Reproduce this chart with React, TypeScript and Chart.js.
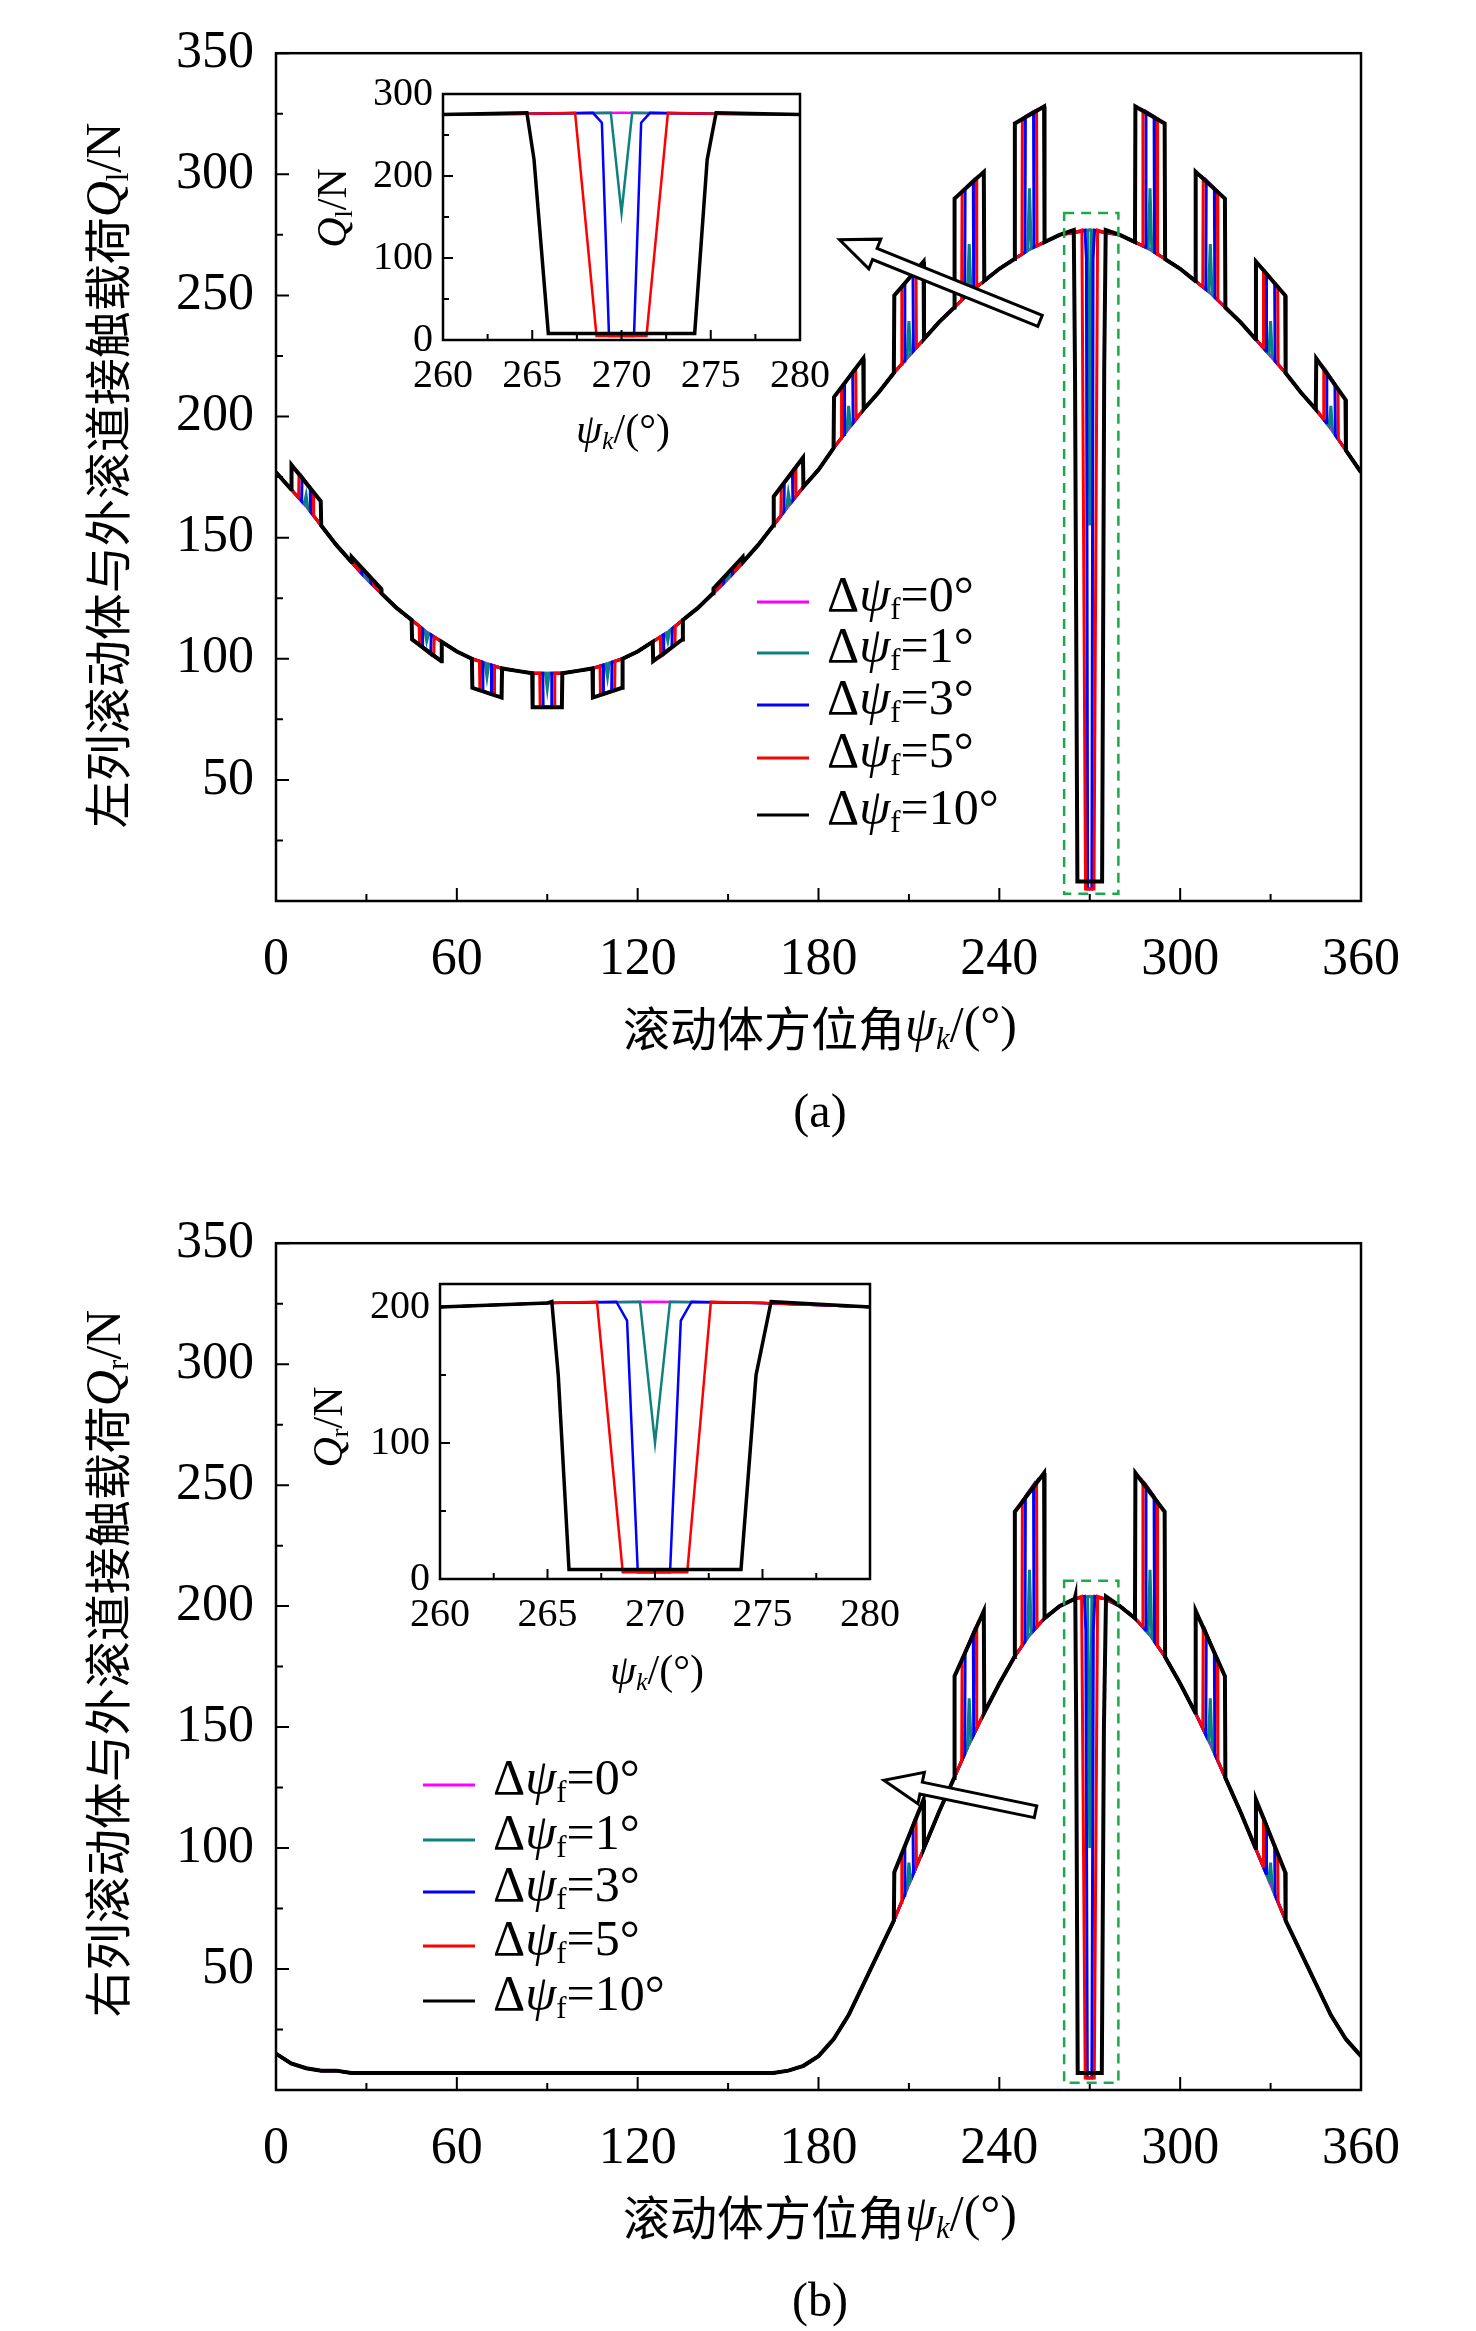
import React, { useEffect, useRef } from "react";
import { Chart, registerables } from "chart.js";
Chart.register(...registerables);

// ---------- data ----------
const seriesLabels = ["0°", "1°", "3°", "5°", "10°"];
const seriesColors = ["#ff00ff", "#0f8080", "#0000ff", "#ff0000", "#000000"];
const seriesWidths = [0, 1, 3, 5, 10]; // Δψf
const pulseScale = [0, 0.45, 1, 1, 1];
const baseStep = 5;
// panel (a) left row, base load every 5°
const baseA = [177,170,163,155,147,140,133,127,121,116,111,107,103,100,98,96,95,94,94,94,95,96,98,100,103,107,111,116,121,127,133,140,147,155,163,171,178,187,195,203,210,218,225,232,239,245,251,256,261,265,269,272,275,276,277,276,275,272,269,265,261,256,251,245,239,232,225,218,210,203,195,186,177];
// panel (b) right row
const baseB = [15,11,9,8,8,7,7,7,7,7,7,7,7,7,7,7,7,7,7,7,7,7,7,7,7,7,7,7,7,7,7,7,7,7,8,10,14,21,31,44,57,70,85,100,115,129,143,156,168,179,188,195,200,203,204,203,200,195,188,179,168,156,143,129,115,100,85,70,57,44,31,21,14];
const elementCentres = [10,30,50,70,90,110,130,150,170,190,210,230,250,290,310,330,350];
const deltaA = [10,2,-8,-12,-14,-12,-8,2,12,21,32,45,56,56,45,32,21];
const deltaB = [0,0,0,0,0,0,0,0,0,0,20,42,60,60,42,20,0];
// defect zone (270°) profiles per series
const defectAx = [[], [269.4,270,270.6], [268.4,268.9,269.3,270.7,271.1,271.6], [267.4,268.6,271.4,272.6], [264.7,265.1,265.9,274.1,274.8,275.3]];
const defectAy = [[], [277,155,277], [277,265,5,5,265,277], [277,5,5,277], [277,220,8,8,220,277]];
const defectBx = [[], [269.3,270,270.7], [268.2,268.7,269.2,270.7,271.2,271.7], [267.3,268.5,271.5,272.6], [265.2,265.5,266,274,274.7,275.4]];
const defectBy = [[], [204,100,204], [204,190,5,5,190,204], [204,5,5,204], [204,150,7,7,150,204]];
const insetATicks = [0, 100, 200, 300];
const insetBTicks = [0, 100, 200];

// ---------- helpers ----------
function baseAt(base: number[], x: number) {
  const i = Math.min(base.length - 2, Math.max(0, Math.floor(x / baseStep)));
  const t = (x - i * baseStep) / baseStep;
  return base[i] * (1 - t) + base[i + 1] * t;
}
function buildSeries(base: number[], deltas: number[], k: number, dx: number[], dy: number[]) {
  const w = seriesWidths[k];
  const pts: { x: number; y: number }[] = [];
  const intervals: [number, number][] = [];
  if (w > 0) {
    elementCentres.forEach((c, j) => {
      const d = deltas[j] * pulseScale[k];
      if (d === 0) return;
      if (w === 1) {
        const a = c - 0.6, b = c + 0.6;
        intervals.push([a, b]);
        pts.push({ x: a, y: baseAt(base, a) }, { x: c, y: baseAt(base, c) + d }, { x: b, y: baseAt(base, b) });
      } else {
        const a = c - w / 2, b = c + w / 2;
        intervals.push([a, b]);
        pts.push(
          { x: a, y: baseAt(base, a) },
          { x: a + 0.15, y: baseAt(base, a) + d },
          { x: b - 0.15, y: baseAt(base, b) + d },
          { x: b, y: baseAt(base, b) }
        );
      }
    });
  }
  if (dx.length) {
    intervals.push([dx[0], dx[dx.length - 1]]);
    dx.forEach((x, i) => pts.push({ x, y: dy[i] }));
  }
  base.forEach((v, i) => {
    const x = i * baseStep;
    if (!intervals.some(([a, b]) => x >= a && x <= b)) pts.push({ x, y: v });
  });
  pts.sort((p, q) => p.x - q.x);
  return pts;
}

const SERIF = '"Times New Roman", "Liberation Serif", "DejaVu Serif", serif';
const CJK = '"Noto Sans CJK SC", sans-serif';
type Seg = { t: string; i?: boolean; s?: boolean; c?: boolean };
function font(size: number, italic?: boolean, cjk?: boolean) {
  return `${italic ? "italic " : ""}${size}px ${cjk ? CJK : SERIF}`;
}
function drawRich(ctx: CanvasRenderingContext2D, segs: Seg[], x: number, y: number, size: number, align: "left" | "center") {
  ctx.save();
  ctx.textBaseline = "middle";
  ctx.textAlign = "left";
  ctx.fillStyle = "#000";
  const fs = (g: Seg) => font(g.s ? size * 0.62 : g.c ? size * 0.94 : size, g.i, g.c);
  const widths = segs.map((g) => {
    ctx.font = fs(g);
    return ctx.measureText(g.t).width;
  });
  const total = widths.reduce((a, b) => a + b, 0);
  let cx = align === "center" ? x - total / 2 : x;
  segs.forEach((g, i) => {
    ctx.font = fs(g);
    ctx.fillText(g.t, cx, g.s ? y + size * 0.25 : y);
    cx += widths[i];
  });
  ctx.restore();
}

type Decor = {
  xMajor: number; xMinor: number; yMajor: number; yMinor: number;
  major: number; minor: number;
  xTitle: Seg[]; xTitlePos: [number, number]; xTitleSize: number;
  yTitle: Seg[]; yTitlePos: [number, number]; yTitleSize: number;
  extra?: (chart: any) => void;
};
function decorPlugin(d: Decor) {
  return {
    id: "decor",
    afterDraw(chart: any) {
      const ctx: CanvasRenderingContext2D = chart.ctx;
      const { left, right, top, bottom } = chart.chartArea;
      const xs = chart.scales.x, ys = chart.scales.y;
      ctx.save();
      ctx.strokeStyle = "#000";
      ctx.lineWidth = 2.5;
      ctx.strokeRect(left, top, right - left, bottom - top);
      ctx.lineWidth = 2;
      ctx.beginPath();
      for (let v = xs.min; v <= xs.max + 1e-6; v += d.xMinor) {
        const p = xs.getPixelForValue(v);
        const isMaj = Math.abs(v / d.xMajor - Math.round(v / d.xMajor)) < 1e-6;
        ctx.moveTo(p, bottom);
        ctx.lineTo(p, bottom - (isMaj ? d.major : d.minor));
      }
      for (let v = ys.min; v <= ys.max + 1e-6; v += d.yMinor) {
        const p = ys.getPixelForValue(v);
        const isMaj = Math.abs(v / d.yMajor - Math.round(v / d.yMajor)) < 1e-6;
        ctx.moveTo(left, p);
        ctx.lineTo(left + (isMaj ? d.major : d.minor), p);
      }
      ctx.stroke();
      ctx.restore();
      drawRich(ctx, d.xTitle, d.xTitlePos[0], d.xTitlePos[1], d.xTitleSize, "center");
      ctx.save();
      ctx.translate(d.yTitlePos[0], d.yTitlePos[1]);
      ctx.rotate(-Math.PI / 2);
      drawRich(ctx, d.yTitle, 0, 0, d.yTitleSize, "center");
      ctx.restore();
      if (d.extra) d.extra(chart);
    },
  };
}

function hollowArrow(ctx: CanvasRenderingContext2D, tx: number, ty: number, hx: number, hy: number) {
  const ang = Math.atan2(hy - ty, hx - tx);
  const L = Math.hypot(hx - tx, hy - ty);
  const sw = 6, hw = 16, hl = 38;
  const pts = [[0, -sw], [L - hl, -sw], [L - hl, -hw], [L, 0], [L - hl, hw], [L - hl, sw], [0, sw]];
  ctx.save();
  ctx.translate(tx, ty);
  ctx.rotate(ang);
  ctx.beginPath();
  pts.forEach(([a, b], i) => (i ? ctx.lineTo(a, b) : ctx.moveTo(a, b)));
  ctx.closePath();
  ctx.fillStyle = "#fff";
  ctx.fill();
  ctx.lineWidth = 3;
  ctx.strokeStyle = "#000";
  ctx.stroke();
  ctx.restore();
}

type PanelCfg = {
  base: number[]; deltas: number[]; dxs: number[][]; dys: number[][];
  rowChar: string; sub: string; tag: string;
  H: number; areaTop: number; areaBottom: number;
  legendX: number; legendY: number[];
  box: [number, number, number, number];
  arrow: [number, number, number, number];
};

function datasets(cfg: PanelCfg, lw: number) {
  return seriesWidths.map((_, k) => ({
    label: seriesLabels[k],
    data: buildSeries(cfg.base, cfg.deltas, k, cfg.dxs[k], cfg.dys[k]),
    borderColor: seriesColors[k],
    borderWidth: k === 4 ? lw + 1 : lw,
    pointRadius: 0,
    tension: 0,
    fill: false,
    order: 4 - k,
  }));
}

function MainChart({ cfg, top }: { cfg: PanelCfg; top: number }) {
  const ref = useRef<HTMLCanvasElement>(null);
  useEffect(() => {
    const decor = decorPlugin({
      xMajor: 60, xMinor: 30, yMajor: 50, yMinor: 25, major: 13, minor: 7,
      xTitle: [{ t: "滚动体方位角", c: true }, { t: "ψ", i: true }, { t: "k", i: true, s: true }, { t: "/(°)" }],
      xTitlePos: [820, cfg.areaBottom + 127], xTitleSize: 50,
      yTitle: [{ t: cfg.rowChar + "列滚动体与外滚道接触载荷", c: true }, { t: "Q", i: true }, { t: cfg.sub, s: true }, { t: "/N" }],
      yTitlePos: [107, (cfg.areaTop + cfg.areaBottom) / 2 + 10], yTitleSize: 50,
      extra: (chart: any) => {
        const ctx: CanvasRenderingContext2D = chart.ctx;
        const xs = chart.scales.x, ys = chart.scales.y;
        ctx.save();
        ctx.strokeStyle = "#1aaa4a";
        ctx.lineWidth = 2.5;
        ctx.setLineDash([10, 7]);
        const [x0, x1, y0, y1] = cfg.box;
        const px0 = xs.getPixelForValue(x0), px1 = xs.getPixelForValue(x1);
        const py0 = ys.getPixelForValue(y0), py1 = ys.getPixelForValue(y1);
        ctx.strokeRect(px0, py1, px1 - px0, py0 - py1);
        ctx.restore();
        const [ax0, ay0, ax1, ay1] = cfg.arrow;
        hollowArrow(ctx, xs.getPixelForValue(ax0), ys.getPixelForValue(ay0), xs.getPixelForValue(ax1), ys.getPixelForValue(ay1));
        seriesLabels.forEach((lab, k) => {
          const y = cfg.legendY[k];
          ctx.save();
          ctx.strokeStyle = seriesColors[k];
          ctx.lineWidth = 3;
          ctx.beginPath();
          ctx.moveTo(cfg.legendX, y);
          ctx.lineTo(cfg.legendX + 52, y);
          ctx.stroke();
          ctx.restore();
          drawRich(ctx, [{ t: "Δ" }, { t: "ψ", i: true }, { t: "f", s: true }, { t: "=" + lab }], cfg.legendX + 70, y - 4, 50, "left");
        });
        drawRich(ctx, [{ t: cfg.tag }], 820, cfg.areaBottom + 213, 48, "center");
      },
    });
    const chart = new Chart(ref.current!, {
      type: "line",
      data: { datasets: datasets(cfg, 3) as any },
      options: {
        animation: false,
        responsive: false,
        devicePixelRatio: 1,
        layout: { padding: { top: cfg.areaTop, right: 115, left: 0, bottom: 0 } },
        plugins: { legend: { display: false }, tooltip: { enabled: false } },
        scales: {
          x: {
            type: "linear", min: 0, max: 360,
            grid: { display: false, drawTicks: false },
            border: { display: false },
            ticks: { stepSize: 60, padding: 28, color: "#000", font: { family: SERIF, size: 52 } },
            afterFit: (s: any) => { s.height = cfg.H - cfg.areaBottom; },
          },
          y: {
            min: 0, max: 350,
            grid: { display: false, drawTicks: false },
            border: { display: false },
            ticks: { stepSize: 50, padding: 22, color: "#000", font: { family: SERIF, size: 52 }, callback: (v: any) => (v === 0 ? "" : String(v)) },
            afterFit: (s: any) => { s.width = 276; },
          },
        },
      } as any,
      plugins: [decor as any],
    });
    return () => chart.destroy();
  }, []);
  return <canvas ref={ref} width={1476} height={cfg.H} style={{ position: "absolute", left: 0, top }} />;
}

type InsetCfg = {
  left: number; top: number; W: number; H: number;
  aLeft: number; aRight: number; aTop: number; aBottom: number;
  yMax: number; yTicks: number[]; xTitlePos: [number, number]; yTitlePos: [number, number];
};
function InsetChart({ cfg, ic }: { cfg: PanelCfg; ic: InsetCfg }) {
  const ref = useRef<HTMLCanvasElement>(null);
  useEffect(() => {
    const decor = decorPlugin({
      xMajor: 5, xMinor: 2.5, yMajor: 100, yMinor: 50, major: 10, minor: 6,
      xTitle: [{ t: "ψ", i: true }, { t: "k", i: true, s: true }, { t: "/(°)" }],
      xTitlePos: ic.xTitlePos, xTitleSize: 42,
      yTitle: [{ t: "Q", i: true }, { t: cfg.sub, s: true }, { t: "/N" }],
      yTitlePos: ic.yTitlePos, yTitleSize: 42,
    });
    const chart = new Chart(ref.current!, {
      type: "line",
      data: { datasets: datasets(cfg, 2.5) as any },
      options: {
        animation: false,
        responsive: false,
        devicePixelRatio: 1,
        layout: { padding: { top: ic.aTop, right: ic.W - ic.aRight, left: 0, bottom: 0 } },
        plugins: { legend: { display: false }, tooltip: { enabled: false } },
        scales: {
          x: {
            type: "linear", min: 260, max: 280,
            grid: { display: false, drawTicks: false },
            border: { display: false },
            ticks: { stepSize: 5, padding: 12, color: "#000", font: { family: SERIF, size: 40 } },
            afterFit: (s: any) => { s.height = ic.H - ic.aBottom; },
          },
          y: {
            min: 0, max: ic.yMax,
            grid: { display: false, drawTicks: false },
            border: { display: false },
            afterBuildTicks: (s: any) => { s.ticks = ic.yTicks.map((v) => ({ value: v })); },
            ticks: { padding: 10, color: "#000", font: { family: SERIF, size: 40 } },
            afterFit: (s: any) => { s.width = ic.aLeft; },
          },
        },
      } as any,
      plugins: [decor as any],
    });
    return () => chart.destroy();
  }, []);
  return <canvas ref={ref} width={ic.W} height={ic.H} style={{ position: "absolute", left: ic.left, top: ic.top }} />;
}

const panelA: PanelCfg = {
  base: baseA, deltas: deltaA, dxs: defectAx, dys: defectAy, rowChar: "左", sub: "l", tag: "(a)",
  H: 1160, areaTop: 30, areaBottom: 901,
  legendX: 757, legendY: [602, 653, 705, 758, 815],
  box: [261.5, 279.5, 3, 284], arrow: [253.5, 239.5, 187, 273],
};
const panelB: PanelCfg = {
  base: baseB, deltas: deltaB, dxs: defectBx, dys: defectBy, rowChar: "右", sub: "r", tag: "(b)",
  H: 1141, areaTop: 27, areaBottom: 900,
  legendX: 423, legendY: [1785 - 1190, 1840 - 1190, 1892 - 1190, 1946 - 1190, 2001 - 1190],
  box: [261.5, 279.5, 3, 210.5], arrow: [252, 115, 201.7, 128],
};
const insetA: InsetCfg = { left: 300, top: 60, W: 560, H: 400, aLeft: 143, aRight: 500, aTop: 25, aBottom: 280, yMax: 300, yTicks: insetATicks, xTitlePos: [323, 372], yTitlePos: [35, 148] };
const insetB: InsetCfg = { left: 300, top: 1250, W: 620, H: 460, aLeft: 140, aRight: 570, aTop: 27, aBottom: 329, yMax: 217, yTicks: insetBTicks, xTitlePos: [357, 423], yTitlePos: [31, 177] };

export default function App() {
  useEffect(() => { document.body.style.margin = "0"; }, []);
  return (
    <div style={{ position: "relative", width: 1476, height: 2331, background: "#fff" }}>
      <MainChart cfg={panelA} top={0} />
      <MainChart cfg={panelB} top={1190} />
      <InsetChart cfg={panelA} ic={insetA} />
      <InsetChart cfg={panelB} ic={insetB} />
    </div>
  );
}
